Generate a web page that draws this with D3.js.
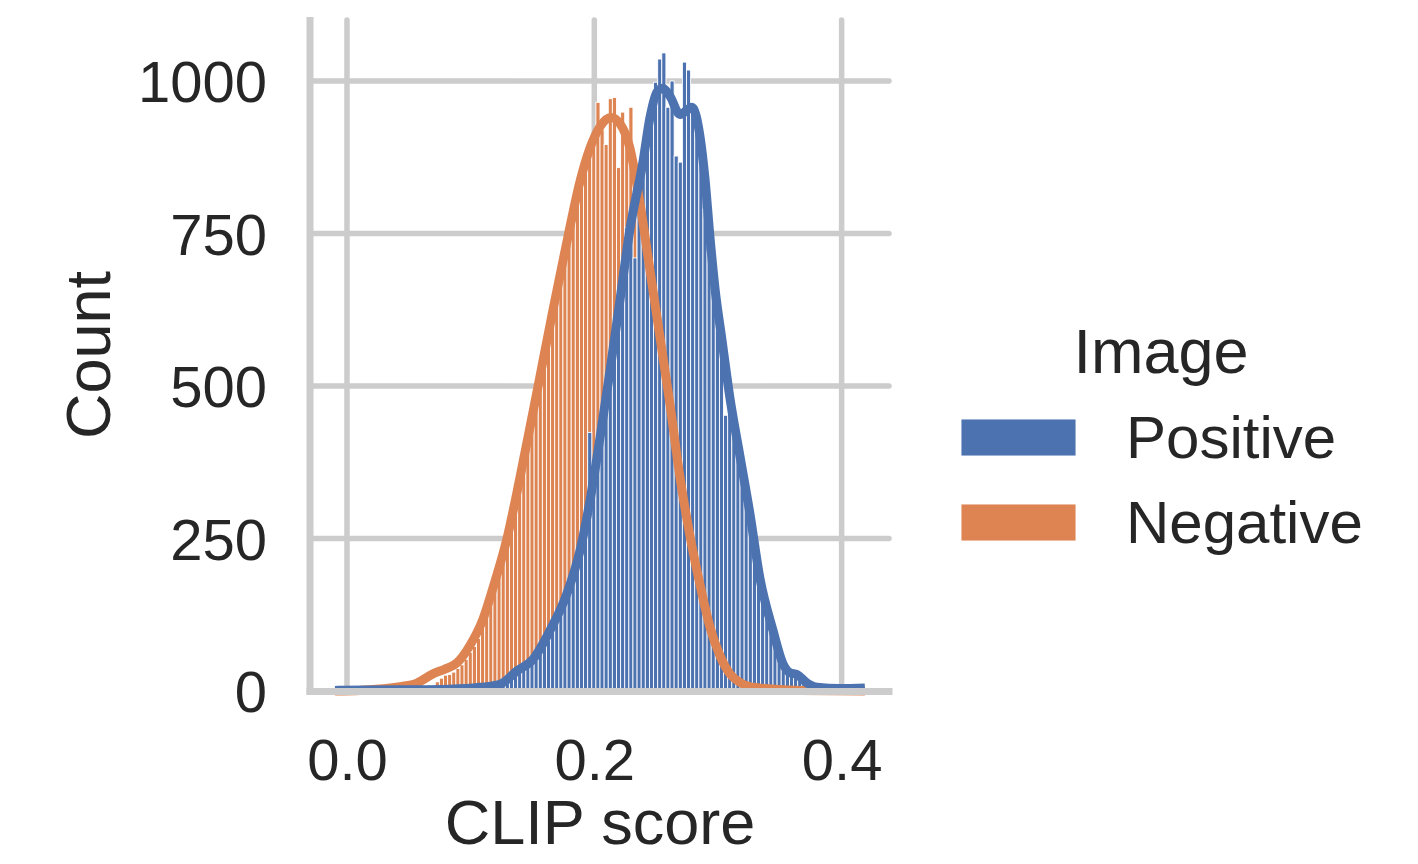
<!DOCTYPE html>
<html>
<head>
<meta charset="utf-8">
<script src="https://cdn.jsdelivr.net/npm/d3@7"></script>
<style>
body { margin: 0; background: #fff; }
svg text { font-family: "Liberation Sans", Arial, sans-serif; fill: #262626; }
</style>
</head>
<body>
<div id="main"></div>
<script>
const ctx = {
    w: 1418,
    h: 864,
    left: 310,
    right: 889,
    top: 20,
    bottom: 691,
    tickFont: 58,
    legendFont: 60,
    labelFont: 63,
    GRID: "#cccccc",
    gridWidth: 5.5,
    spineWidth: 7,
    kdeWidth: 9,
};

// data
const SERIES = ["Positive", "Negative"];
const COLORS = ["#4c72b0", "#dd8452"];
const LEGEND_TITLE = "Image";
const X_LABEL = "CLIP score";
const Y_LABEL = "Count";
const X_TICKS = [0.0, 0.2, 0.4];
const Y_TICKS = [0, 250, 500, 750, 1000];
const X_DOMAIN = [-0.0299, 0.4383];
const Y_DOMAIN = [0, 1100];

const BIN_START = -0.0085;
const BIN_WIDTH = 0.00333;

const positiveCounts = [
    0, 0, 0, 0, 0, 0, 1, 0, 0, 1, 0, 1, 1, 0, 1, 1,
    1, 2, 1, 2, 2, 2, 2, 3, 2, 3, 3, 3, 3, 3, 4, 3,
    4, 5, 5, 5, 6, 7, 8, 10, 12, 16, 20, 26, 33, 37, 40, 45,
    50, 62, 72, 83, 99, 110, 130, 152, 174, 195, 214, 250, 290, 424, 350, 395,
    445, 490, 530, 570, 600, 690, 760, 770, 710, 840, 870, 942, 930, 998, 1036, 1046,
    957, 1000, 877, 867, 1031, 1018, 959, 920, 870, 790, 720, 670, 615, 570, 452, 480,
    440, 395, 355, 310, 270, 225, 185, 150, 120, 100, 78, 55, 40, 30, 25, 22,
    18, 12, 8, 5, 3, 2, 1, 1, 1, 0, 1, 0, 1, 0, 1, 2
];

const negativeCounts = [
    0, 0, 0, 0, 0, 0, 0, 0, 1, 0, 1, 1, 1, 2, 2, 2,
    3, 3, 4, 5, 6, 5, 7, 9, 15, 21, 26, 27, 31, 37, 43, 52,
    63, 73, 86, 108, 126, 148, 170, 194, 217, 240, 270, 300, 333, 367, 400, 437,
    472, 508, 545, 582, 615, 650, 690, 725, 760, 785, 815, 835, 850, 880, 905, 965,
    920, 896, 971, 973, 858, 949, 905, 957, 830, 800, 760, 700, 650, 605, 560, 520,
    480, 440, 385, 340, 295, 255, 225, 190, 160, 130, 105, 82, 62, 48, 36, 27,
    20, 15, 11, 8, 6, 5, 4, 3, 3, 2, 2, 1, 1, 1, 1, 0,
    0, 0, 0, 0, 0, 0, 0, 0, 0, 0, 0, 0, 0, 0, 0, 0
];

// KDE curves as [score, count]
const positiveKde = [
    [-0.0097, 1], [0.0429, 2], [0.0833, 3], [0.1075, 6], [0.1237, 11], [0.1375, 33],
    [0.1504, 52], [0.1641, 99], [0.1779, 160], [0.1884, 230], [0.1965, 312], [0.2046, 415],
    [0.2127, 525], [0.2207, 640], [0.2288, 757], [0.2393, 867], [0.2450, 940], [0.2507, 982],
    [0.2555, 988], [0.2612, 975], [0.2693, 945], [0.2790, 957], [0.2854, 910], [0.2895, 840],
    [0.2935, 745], [0.2976, 660], [0.3032, 576], [0.3097, 480], [0.3178, 385], [0.3259, 290],
    [0.3339, 185], [0.3444, 100], [0.3525, 45], [0.3582, 30], [0.3639, 27], [0.3720, 13],
    [0.3800, 6], [0.3986, 4], [0.4188, 5]
];

const negativeKde = [
    [-0.0097, 0], [0.0105, 1], [0.0429, 7], [0.0566, 13], [0.0695, 28], [0.0792, 36],
    [0.0889, 46], [0.0995, 75], [0.1100, 118], [0.1197, 180], [0.1294, 250], [0.1399, 350],
    [0.1536, 490], [0.1666, 625], [0.1787, 745], [0.1884, 835], [0.1965, 890], [0.2046, 925],
    [0.2135, 940], [0.2207, 930], [0.2288, 890], [0.2369, 800], [0.2450, 690], [0.2531, 580],
    [0.2612, 470], [0.2693, 350], [0.2773, 255], [0.2854, 175], [0.2935, 105], [0.3016, 58],
    [0.3097, 28], [0.3178, 14], [0.3259, 7], [0.3461, 3], [0.3663, 1], [0.4188, 0]
];

function createViz() {
    let svgEl = d3.select("#main").append("svg")
        .attr("width", ctx.w)
        .attr("height", ctx.h);

    let x = d3.scaleLinear().domain(X_DOMAIN).range([ctx.left, ctx.right]);
    let y = d3.scaleLinear().domain(Y_DOMAIN).range([ctx.bottom, ctx.top]);

    // grid
    let gridG = svgEl.append("g").attr("id", "grid");
    gridG.selectAll("line.h")
        .data(Y_TICKS)
        .enter()
        .append("line")
        .attr("x1", ctx.left)
        .attr("x2", ctx.right)
        .attr("y1", (d) => y(d))
        .attr("y2", (d) => y(d))
        .attr("stroke", ctx.GRID)
        .attr("stroke-width", ctx.gridWidth)
        .attr("stroke-linecap", "round");
    gridG.selectAll("line.v")
        .data(X_TICKS)
        .enter()
        .append("line")
        .attr("x1", (d) => x(d))
        .attr("x2", (d) => x(d))
        .attr("y1", ctx.top)
        .attr("y2", ctx.bottom)
        .attr("stroke", ctx.GRID)
        .attr("stroke-width", ctx.gridWidth)
        .attr("stroke-linecap", "round");

    // histograms: Negative first, Positive drawn on top
    let hists = [
        { name: SERIES[1], color: COLORS[1], counts: negativeCounts },
        { name: SERIES[0], color: COLORS[0], counts: positiveCounts },
    ];
    hists.forEach((s) => {
        let bins = s.counts
            .map((c, i) => ({ x0: BIN_START + i * BIN_WIDTH, x1: BIN_START + (i + 1) * BIN_WIDTH, c: c }))
            .filter((b) => b.c > 0);
        svgEl.append("g")
            .attr("class", "hist")
            .selectAll("rect")
            .data(bins)
            .enter()
            .append("rect")
            .attr("x", (b) => x(b.x0))
            .attr("width", (b) => x(b.x1) - x(b.x0))
            .attr("y", (b) => y(b.c))
            .attr("height", (b) => y(0) - y(b.c))
            .attr("fill", s.color)
            .attr("stroke", "#fff")
            .attr("stroke-width", 0.9);
    });

    // kde lines
    let line = d3.line()
        .x((d) => x(d[0]))
        .y((d) => y(d[1]))
        .curve(d3.curveMonotoneX);
    [[negativeKde, COLORS[1]], [positiveKde, COLORS[0]]].forEach(([pts, color]) => {
        svgEl.append("path")
            .datum(pts)
            .attr("d", line)
            .attr("fill", "none")
            .attr("stroke", color)
            .attr("stroke-width", ctx.kdeWidth)
            .attr("stroke-linejoin", "round");
    });

    // spines (left + bottom only)
    svgEl.append("line")
        .attr("x1", ctx.left).attr("x2", ctx.left)
        .attr("y1", ctx.top - 3).attr("y2", ctx.bottom + 4)
        .attr("stroke", ctx.GRID)
        .attr("stroke-width", ctx.spineWidth);
    svgEl.append("line")
        .attr("x1", ctx.left - 3.5).attr("x2", ctx.right + 3.5)
        .attr("y1", ctx.bottom + 0.5).attr("y2", ctx.bottom + 0.5)
        .attr("stroke", ctx.GRID)
        .attr("stroke-width", ctx.spineWidth);

    // axes
    let yAxis = svgEl.append("g")
        .attr("transform", `translate(${ctx.left},0)`)
        .call(d3.axisLeft(y).tickValues(Y_TICKS).tickSize(0).tickPadding(43).tickFormat(d3.format("d")));
    let xAxis = svgEl.append("g")
        .attr("transform", `translate(0,${ctx.bottom})`)
        .call(d3.axisBottom(x).tickValues(X_TICKS).tickSize(0).tickPadding(48).tickFormat(d3.format(".1f")));
    [yAxis, xAxis].forEach((a) => {
        a.select(".domain").remove();
        a.selectAll("text")
            .attr("font-family", null)
            .style("font-size", ctx.tickFont + "px")
            .attr("fill", "#262626");
    });
    yAxis.selectAll("text").attr("dy", "0.36em");

    svgEl.append("text")
        .attr("x", 600)
        .attr("y", 844)
        .attr("text-anchor", "middle")
        .style("font-size", ctx.labelFont + "px")
        .text(X_LABEL);
    svgEl.append("text")
        .attr("transform", "translate(110,355) rotate(-90)")
        .attr("text-anchor", "middle")
        .style("font-size", ctx.labelFont + "px")
        .text(Y_LABEL);

    // legend
    let legendG = svgEl.append("g").attr("id", "legend");
    legendG.append("text")
        .attr("x", 1161)
        .attr("y", 373)
        .attr("text-anchor", "middle")
        .style("font-size", ctx.labelFont + "px")
        .text(LEGEND_TITLE);
    SERIES.forEach((name, i) => {
        let row = legendG.append("g").attr("transform", `translate(0,${i * 85})`);
        row.append("rect")
            .attr("x", 961)
            .attr("y", 419)
            .attr("width", 115)
            .attr("height", 37)
            .attr("fill", COLORS[i])
            .attr("stroke", "#fff")
            .attr("stroke-width", 0.9);
        row.append("text")
            .attr("x", 1126)
            .attr("y", 458)
            .style("font-size", ctx.legendFont + "px")
            .text(name);
    });
}

createViz();
</script>
</body>
</html>
